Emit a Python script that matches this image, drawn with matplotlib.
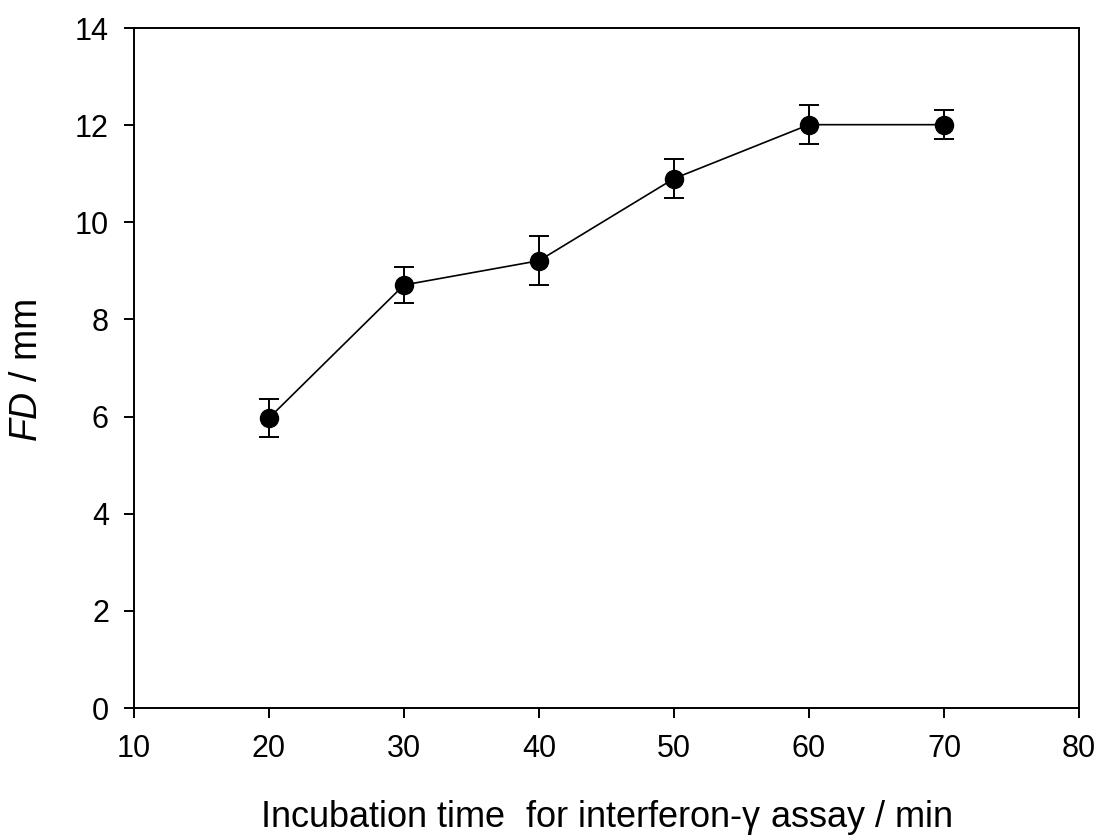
import matplotlib
matplotlib.use("Agg")
import matplotlib.pyplot as plt

plt.rcParams['font.family'] = ['Liberation Sans', 'DejaVu Sans']
plt.rcParams['mathtext.fontset'] = 'custom'
plt.rcParams['mathtext.rm'] = 'Liberation Sans'
plt.rcParams['mathtext.it'] = 'Liberation Sans:italic'

time_min = [20, 30, 40, 50, 60, 70]
fd_mm = [5.97, 8.71, 9.21, 10.9, 12.01, 12.01]
fd_err = [0.40, 0.38, 0.50, 0.40, 0.40, 0.30]

fig = plt.figure(figsize=(11.01, 8.39), dpi=100)
ax = fig.add_axes([0.1217, 0.1561, 0.8583, 0.8105])

ax.errorbar(time_min, fd_mm, yerr=fd_err, color='black', lw=1.2,
            marker='o', markersize=13, capsize=7, elinewidth=1.4,
            capthick=1.4, zorder=3)

ax.set_xlim(10, 80)
ax.set_ylim(0, 14)
ax.set_xticks(range(10, 81, 10))
ax.set_yticks(range(0, 15, 2))
for s in ax.spines.values():
    s.set_linewidth(1.4)
ax.tick_params(direction='out', length=7, width=1.4, labelsize=22)
ax.tick_params(axis='x', pad=12)
ax.tick_params(axis='y', pad=11)

ax.set_xlabel('Incubation time  for interferon-$\\mathrm{\\gamma}$ assay / min', fontsize=26, labelpad=24)
ax.set_ylabel('$\\mathit{FD}$ / mm', fontsize=27)
ax.yaxis.set_label_coords(-0.094, 0.497)

fig.savefig('out.png', dpi=100)
